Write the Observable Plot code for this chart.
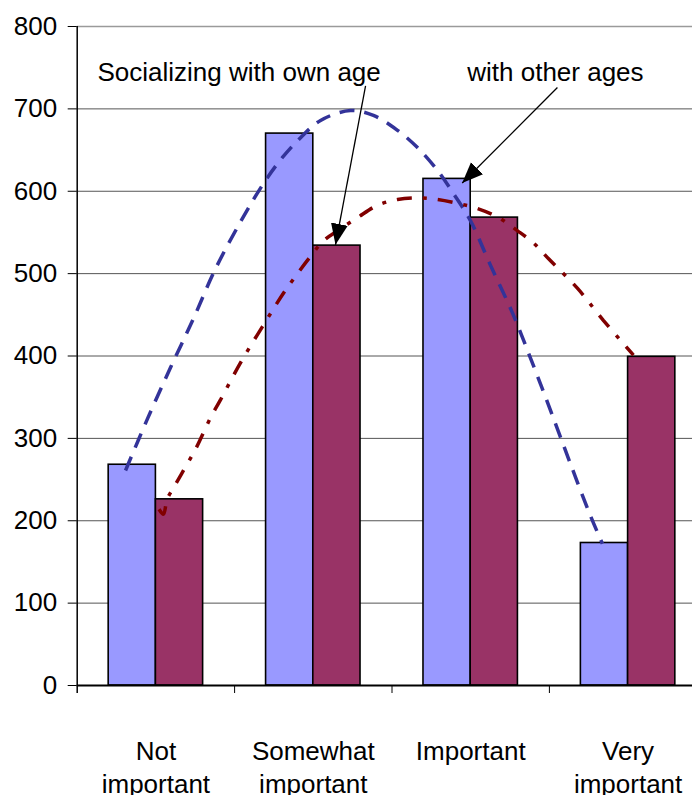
<!DOCTYPE html>
<html>
<head>
<meta charset="utf-8">
<script src="https://cdn.jsdelivr.net/npm/d3@7"></script>
<script src="https://cdn.jsdelivr.net/npm/@observablehq/plot@0.6"></script>
<style>
html, body { margin: 0; padding: 0; background: #fff; overflow: hidden; }
svg { display: block; }
</style>
</head>
<body>
<div id="chart"></div>
<script>
// ---- data ----
const categories = ["Not\nimportant", "Somewhat\nimportant", "Important", "Very\nimportant"];
const otherAges = [268, 670, 615, 173];   // light blue bars
const ownAge = [226, 534, 568, 399];      // plum bars
const yTicks = [0, 100, 200, 300, 400, 500, 600, 700, 800];

// hand-drawn curve (other ages), x in category units (0..4), y in values
const otherCurveX = [0.307, 0.447, 0.593, 0.733, 0.879, 1.050, 1.196, 1.304, 1.419, 1.546, 1.736, 1.882, 2.035, 2.162, 2.290, 2.391, 2.499, 2.626, 2.766, 2.893, 3.007, 3.134, 3.261, 3.337];
const otherCurveY = [261, 324, 386, 443, 506, 567, 613, 641, 665, 686, 698, 692, 674, 653, 625, 597, 564, 510, 452, 391, 334, 269, 206, 172];
// hand-drawn curve (own age)
const ownCurveX = [0.520, 0.548, 0.571, 0.618, 0.663, 0.752, 0.847, 0.911, 1.038, 1.178, 1.324, 1.483, 1.565, 1.654, 1.781, 1.908, 2.035, 2.162, 2.290, 2.423, 2.543, 2.677, 2.798, 2.900, 2.995, 3.179, 3.344, 3.534];
const ownCurveY = [214, 208, 226, 242, 257, 287, 325, 347, 392, 436, 480, 521, 540, 552, 568, 583, 590, 592, 590, 585, 579, 568, 552, 537, 518, 482, 443, 401];

// annotations
const noteText = ["Socializing with own age", "with other ages"];
const noteX = [0.129, 2.478];
const noteY = [734, 734];
const arrowFromX = [1.832, 3.051];
const arrowFromY = [728, 726];
const arrowToX = [1.641, 2.446];
const arrowToY = [535, 610];

// ---- build tables ----
const rows = categories.map((c, i) => ({i, c, other: otherAges[i], own: ownAge[i]}));
const otherCurve = otherCurveX.map((x, k) => ({x, y: otherCurveY[k]}));
const ownCurve = ownCurveX.map((x, k) => ({x, y: ownCurveY[k]}));
const notes = noteText.map((t, k) => ({t, x: noteX[k], y: noteY[k]}));
const arrows = arrowFromX.map((x1, k) => ({x1, y1: arrowFromY[k], x2: arrowToX[k], y2: arrowToY[k]}));

const FONT = "'Liberation Sans', Arial, Helvetica, sans-serif";
const FS = 26;

const chart = Plot.plot({
  width: 692,
  height: 795,
  marginLeft: 76.7,
  marginRight: 0,
  marginTop: 26,
  marginBottom: 110,
  style: {fontFamily: FONT, fontSize: FS + "px", background: "#fff", color: "#000"},
  x: {type: "linear", domain: [0, 4], range: [76.7, 706.3], axis: null, label: null},
  y: {domain: [0, 800], axis: null, label: null},
  marks: [
    Plot.gridY(yTicks.filter(v => v > 0 && v < 800), {stroke: "#555", strokeOpacity: 1, strokeWidth: 1}),
    Plot.gridY([800], {stroke: "#9a9a9a", strokeOpacity: 1, strokeWidth: 1.5}),
    Plot.rectY(rows, {x1: d => d.i + 0.2, x2: d => d.i + 0.5, y: "other", fill: "#9999FF", stroke: "#000", strokeWidth: 1.6}),
    Plot.rectY(rows, {x1: d => d.i + 0.5, x2: d => d.i + 0.8, y: "own", fill: "#993366", stroke: "#000", strokeWidth: 1.6}),
    Plot.line(otherCurve, {x: "x", y: "y", stroke: "#333399", strokeWidth: 3.5, strokeDasharray: "15,10", strokeLinecap: "butt", curve: "catmull-rom"}),
    Plot.line(ownCurve, {x: "x", y: "y", stroke: "#800000", strokeWidth: 3.5, strokeDasharray: "15,11,4,11", strokeLinecap: "butt", strokeLinejoin: "miter", curve: "catmull-rom"}),
    Plot.ruleY([0], {stroke: "#000", strokeWidth: 2}),
    Plot.ruleX([0], {stroke: "#000", strokeWidth: 1.5, insetBottom: -8}),
    Plot.axisY(yTicks, {anchor: "left", tickSize: 9, tickPadding: 11, fontSize: FS, label: null, stroke: "#000"}),
    Plot.axisX([1, 2, 3], {anchor: "bottom", tickSize: 8, tickFormat: () => "", label: null, stroke: "#000"}),
    Plot.text(rows, {x: d => d.i + 0.5, text: "c", frameAnchor: "bottom", dy: 50, lineAnchor: "top", lineHeight: 1.3, fontSize: FS, fill: "#000"}),
    Plot.link(arrows, {x1: "x1", y1: "y1", x2: "x2", y2: "y2", stroke: "#000", strokeWidth: 1.3, markerEnd: "arrow"}),
    Plot.text(notes, {x: "x", y: "y", text: "t", textAnchor: "start", lineAnchor: "bottom", fontSize: FS, fill: "#000"})
  ]
});

// make the arrowheads solid, larger triangles
d3.select(chart).selectAll("marker").each(function() {
  const m = d3.select(this);
  m.attr("viewBox", "-21 -10 22 20")
   .attr("markerUnits", "userSpaceOnUse")
   .attr("markerWidth", 22)
   .attr("markerHeight", 20)
   .attr("refX", 0).attr("refY", 0)
   .attr("fill", "#000").attr("stroke", "none");
  m.selectAll("*").remove();
  m.append("path").attr("d", "M-21,-8.5L0,0L-21,8.5Z").attr("fill", "#000").attr("stroke", "none");
});

document.getElementById("chart").appendChild(chart);
</script>
</body>
</html>
